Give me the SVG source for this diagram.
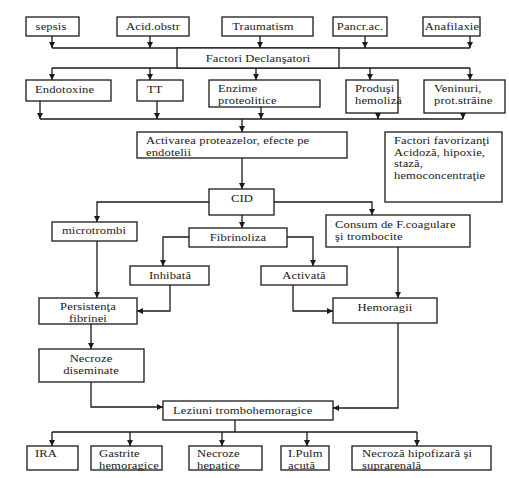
<svg xmlns="http://www.w3.org/2000/svg" width="509" height="478" viewBox="0 0 509 478">
<defs>
<marker id="ah" markerUnits="userSpaceOnUse" markerWidth="7" markerHeight="7" refX="6" refY="3" orient="auto">
<path d="M0,0 L6,3 L0,6 z" fill="#1a1a1a"/>
</marker>
<style>
.b{fill:#fff;stroke:#1a1a1a;stroke-width:1.3}
.t{font-family:"Liberation Serif","Times New Roman",serif;font-size:10.5px;letter-spacing:0.1px;fill:#1a1a1a}
.c{text-anchor:middle}
.l{fill:none;stroke:#1a1a1a;stroke-width:1.3}
.a{fill:none;stroke:#1a1a1a;stroke-width:1.3;marker-end:url(#ah)}
</style>
</defs>
<rect width="509" height="478" fill="#fff"/>
<g id="connectors">
<path class="a" d="M52,36V48"/><path class="a" d="M150,36V48"/><path class="a" d="M260,36V48"/><path class="a" d="M365,36V48"/><path class="a" d="M470,36V48"/>
<path class="l" d="M52,48H470"/>
<path class="l" d="M52,68H470"/>
<path class="a" d="M52,68V80"/><path class="a" d="M150,68V80"/><path class="a" d="M256,68V80"/><path class="a" d="M370,68V80"/><path class="a" d="M470,68V80"/>
<path class="a" d="M40,101V119"/><path class="a" d="M157,101V119"/><path class="a" d="M261,107V119"/><path class="a" d="M378,113V119"/><path class="a" d="M463,113V119"/>
<path class="l" d="M40,119H463"/>
<path class="a" d="M242,119V132"/>
<path class="a" d="M242,158V189"/>
<path class="a" d="M209,202H97V222"/>
<path class="a" d="M274,202H372V215"/>
<path class="a" d="M242,215V228"/>
<path class="a" d="M189,237H163V266"/>
<path class="a" d="M287,237H313V266"/>
<path class="a" d="M97,241V298"/>
<path class="a" d="M170,285V311H137"/>
<path class="a" d="M398,247V298"/>
<path class="a" d="M293,285V311H333"/>
<path class="a" d="M91,324V349"/>
<path class="a" d="M91,382V407H163"/>
<path class="a" d="M398,323V408H333"/>
<path class="l" d="M235,420V432"/>
<path class="l" d="M52,432H417"/>
<path class="a" d="M52,432V446"/><path class="a" d="M130,432V446"/><path class="a" d="M222,432V446"/><path class="a" d="M307,432V446"/><path class="a" d="M417,432V446"/>
</g>
<g id="sepsis"><rect class="b" x="26" y="17" width="53" height="19"/><text class="t c" transform="translate(51,30) scale(1.2,1)">sepsis</text></g>
<g id="acid"><rect class="b" x="117" y="17" width="72" height="19"/><text class="t c" transform="translate(153,30) scale(1.2,1)">Acid.obstr</text></g>
<g id="traumatism"><rect class="b" x="222" y="17" width="91" height="19"/><text class="t c" transform="translate(263,30) scale(1.2,1)">Traumatism</text></g>
<g id="pancr"><rect class="b" x="333" y="17" width="54" height="19"/><text class="t c" transform="translate(360,30) scale(1.2,1)">Pancr.ac.</text></g>
<g id="anafilaxie"><rect class="b" x="423" y="17" width="57" height="19"/><text class="t c" transform="translate(452,30) scale(1.2,1)">Anafilaxie</text></g>
<g id="factori-declansatori"><rect class="b" x="177" y="48" width="162" height="20"/><text class="t c" transform="translate(258,62) scale(1.2,1)">Factori Declanşatori</text></g>
<g id="endotoxine"><rect class="b" x="26" y="80" width="85" height="21"/><text class="t" transform="translate(35,93) scale(1.2,1)">Endotoxine</text></g>
<g id="tt"><rect class="b" x="137" y="80" width="46" height="21"/><text class="t" transform="translate(147,93) scale(1.2,1)">TT</text></g>
<g id="enzime"><rect class="b" x="209" y="80" width="111" height="27"/><text class="t" transform="translate(218,92) scale(1.2,1)">Enzime</text><text class="t" transform="translate(218,104) scale(1.2,1)">proteolitice</text></g>
<g id="produsi"><rect class="b" x="346" y="80" width="52" height="33"/><text class="t" transform="translate(355,92) scale(1.2,1)">Produşi</text><text class="t" transform="translate(355,104) scale(1.2,1)">hemoliză</text></g>
<g id="veninuri"><rect class="b" x="424" y="80" width="81" height="33"/><text class="t" transform="translate(434,92) scale(1.2,1)">Veninuri,</text><text class="t" transform="translate(434,104) scale(1.2,1)">prot.străine</text></g>
<g id="activarea"><rect class="b" x="137" y="132" width="210" height="26"/><text class="t" transform="translate(146,144) scale(1.2,1)">Activarea proteazelor, efecte pe</text><text class="t" transform="translate(146,156) scale(1.2,1)">endotelii</text></g>
<g id="factori-favorizanti"><rect class="b" x="385" y="132" width="117" height="70"/><text class="t" transform="translate(394,144) scale(1.2,1)">Factori favorizanţi</text><text class="t" transform="translate(394,155.7) scale(1.2,1)">Acidoză, hipoxie,</text><text class="t" transform="translate(394,167.4) scale(1.2,1)">stază,</text><text class="t" transform="translate(394,179.1) scale(1.2,1)">hemoconcentraţie</text></g>
<g id="cid"><rect class="b" x="209" y="189" width="65" height="26"/><text class="t c" transform="translate(242,202) scale(1.2,1)">CID</text></g>
<g id="microtrombi"><rect class="b" x="52" y="222" width="85" height="19"/><text class="t c" transform="translate(94,234) scale(1.2,1)">microtrombi</text></g>
<g id="fibrinoliza"><rect class="b" x="189" y="228" width="98" height="19"/><text class="t c" transform="translate(238,241) scale(1.2,1)">Fibrinoliza</text></g>
<g id="consum"><rect class="b" x="326" y="215" width="144" height="32"/><text class="t" transform="translate(335,228) scale(1.2,1)">Consum de F.coagulare</text><text class="t" transform="translate(335,240) scale(1.2,1)">şi trombocite</text></g>
<g id="inhibata"><rect class="b" x="130" y="266" width="79" height="19"/><text class="t c" transform="translate(170,279) scale(1.2,1)">Inhibată</text></g>
<g id="activata"><rect class="b" x="261" y="266" width="86" height="19"/><text class="t c" transform="translate(304,279) scale(1.2,1)">Activată</text></g>
<g id="persistenta"><rect class="b" x="39" y="298" width="98" height="26"/><text class="t c" transform="translate(88,310) scale(1.2,1)">Persistenţa</text><text class="t c" transform="translate(88,322) scale(1.2,1)">fibrinei</text></g>
<g id="hemoragii"><rect class="b" x="333" y="298" width="104" height="25"/><text class="t c" transform="translate(385,311) scale(1.2,1)">Hemoragii</text></g>
<g id="necroze-diseminate"><rect class="b" x="39" y="349" width="105" height="33"/><text class="t c" transform="translate(91,362) scale(1.2,1)">Necroze</text><text class="t c" transform="translate(91,374) scale(1.2,1)">diseminate</text></g>
<g id="leziuni"><rect class="b" x="163" y="401" width="170" height="19"/><text class="t" transform="translate(173,414) scale(1.2,1)">Leziuni trombohemoragice</text></g>
<g id="ira"><rect class="b" x="27" y="446" width="51" height="24"/><text class="t" transform="translate(35,457) scale(1.2,1)">IRA</text></g>
<g id="gastrite"><rect class="b" x="91" y="446" width="71" height="24"/><text class="t" transform="translate(99,457) scale(1.2,1)">Gastrite</text><text class="t" transform="translate(99,469) scale(1.2,1)">hemoragice</text></g>
<g id="necroze-hepatice"><rect class="b" x="189" y="446" width="73" height="24"/><text class="t" transform="translate(197,457) scale(1.2,1)">Necroze</text><text class="t" transform="translate(197,469) scale(1.2,1)">hepatice</text></g>
<g id="ipulm"><rect class="b" x="281" y="446" width="48" height="24"/><text class="t" transform="translate(288,457) scale(1.2,1)">I.Pulm</text><text class="t" transform="translate(288,469) scale(1.2,1)">acută</text></g>
<g id="necroza-hipofizara"><rect class="b" x="352" y="446" width="139" height="24"/><text class="t" transform="translate(362,457) scale(1.2,1)">Necroză hipofizară şi</text><text class="t" transform="translate(362,469) scale(1.2,1)">suprarenală</text></g>
</svg>
